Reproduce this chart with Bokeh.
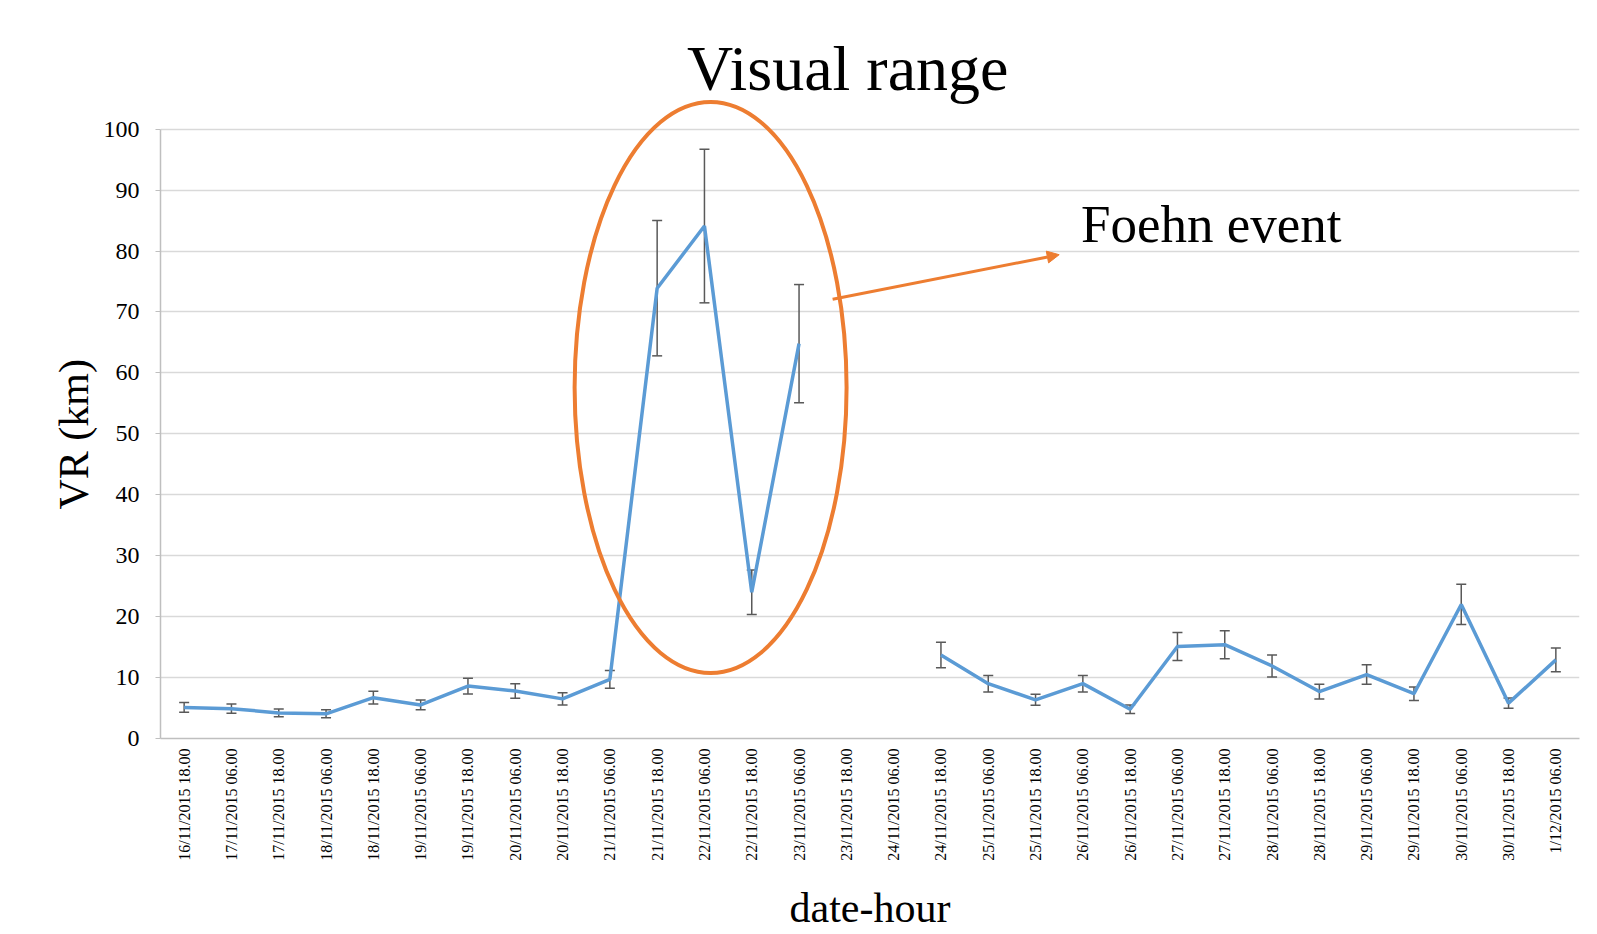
import math
import numpy as np
from bokeh.plotting import figure
from bokeh.models import (FactorRange, Range1d, ColumnDataSource, Whisker, TeeHead,
                          Label, Arrow, NormalHead, FixedTicker, Title)
from bokeh.embed import file_html
from bokeh.resources import INLINE

categories = [
    "16/11/2015 18.00", "17/11/2015 06.00", "17/11/2015 18.00", "18/11/2015 06.00",
    "18/11/2015 18.00", "19/11/2015 06.00", "19/11/2015 18.00", "20/11/2015 06.00",
    "20/11/2015 18.00", "21/11/2015 06.00", "21/11/2015 18.00", "22/11/2015 06.00",
    "22/11/2015 18.00", "23/11/2015 06.00", "23/11/2015 18.00", "24/11/2015 06.00",
    "24/11/2015 18.00", "25/11/2015 06.00", "25/11/2015 18.00", "26/11/2015 06.00",
    "26/11/2015 18.00", "27/11/2015 06.00", "27/11/2015 18.00", "28/11/2015 06.00",
    "28/11/2015 18.00", "29/11/2015 06.00", "29/11/2015 18.00", "30/11/2015 06.00",
    "30/11/2015 18.00", "1/12/2015 06.00",
]
vr_km = [5.1, 4.9, 4.2, 4.05, 6.7, 5.5, 8.6, 7.8, 6.5, 9.7,
         73.9, 84.1, 24.0, 64.8, np.nan, np.nan,
         13.7, 9.0, 6.35, 9.0, 4.8, 15.1, 15.4, 11.9, 7.7, 10.5, 7.35, 22.0, 5.8, 12.9]
vr_err = [0.8, 0.75, 0.65, 0.65, 1.05, 0.8, 1.3, 1.2, 1.0, 1.45,
          11.1, 12.6, 3.65, 9.7, np.nan, np.nan,
          2.1, 1.35, 0.9, 1.35, 0.7, 2.3, 2.3, 1.8, 1.2, 1.6, 1.1, 3.3, 0.85, 1.95]
y_ticks = [0, 10, 20, 30, 40, 50, 60, 70, 80, 90, 100]

# annotation geometry (synthetic categorical x, data y)
ellipse_center = [11.63, 57.6]
ellipse_size = [5.75, 93.8]
arrow_from = [14.21, 72.1]
arrow_to = [19.0, 79.4]

FONT = "Liberation Serif"
BLUE = "#5B9BD5"
ORANGE = "#ED7D31"

p = figure(width=1592, height=934, x_range=FactorRange(*categories),
           y_range=Range1d(0, 118), output_backend="svg", toolbar_location=None,
           title=None, min_border_left=160, min_border_right=13,
           min_border_top=19, min_border_bottom=196)
p.outline_line_color = None
p.background_fill_color = "white"

# grid
p.xgrid.grid_line_color = None
p.ygrid.grid_line_color = "#D9D9D9"
p.ygrid.grid_line_width = 1.5

# y axis
p.yaxis.ticker = FixedTicker(ticks=y_ticks)
p.yaxis.bounds = (0, 100)
p.yaxis.minor_tick_line_color = None
p.yaxis.major_tick_in = 0
p.yaxis.major_tick_out = 5
p.yaxis.major_tick_line_color = "#BFBFBF"
p.yaxis.axis_line_color = "#BFBFBF"
p.yaxis.axis_line_width = 1.5
p.yaxis.major_label_standoff = 16
p.yaxis.major_label_text_font = FONT
p.yaxis.major_label_text_font_size = "24px"
p.yaxis.major_label_text_color = "black"

p.add_layout(Title(text="VR (km)", align="left", offset=229, text_font=FONT,
                   text_font_size="42px", text_font_style="normal",
                   text_color="black", standoff=8), "left")

# x axis
p.xaxis.major_label_orientation = math.pi / 2
p.xaxis.major_tick_in = 0
p.xaxis.major_tick_out = 0
p.xaxis.minor_tick_line_color = None
p.xaxis.axis_line_color = "#BFBFBF"
p.xaxis.axis_line_width = 1.5
p.xaxis.major_label_standoff = 10
p.xaxis.major_label_text_font = FONT
p.xaxis.major_label_text_font_size = "16px"
p.xaxis.major_label_text_color = "black"
p.xaxis.axis_label = "date-hour"
p.xaxis.axis_label_text_font = FONT
p.xaxis.axis_label_text_font_size = "42px"
p.xaxis.axis_label_text_font_style = "normal"
p.xaxis.axis_label_text_color = "black"
p.xaxis.axis_label_standoff = 21

# data
src = ColumnDataSource(dict(x=categories, y=vr_km))
p.line("x", "y", source=src, line_color=BLUE, line_width=3.5)

ok = [i for i, v in enumerate(vr_km) if not np.isnan(v)]
esrc = ColumnDataSource(dict(
    x=[categories[i] for i in ok],
    lo=[vr_km[i] - vr_err[i] for i in ok],
    hi=[vr_km[i] + vr_err[i] for i in ok],
))
w = Whisker(base="x", lower="lo", upper="hi", source=esrc, dimension="height",
            line_color="#595959", line_width=1.5,
            upper_head=TeeHead(size=10, line_color="#595959", line_width=1.5),
            lower_head=TeeHead(size=10, line_color="#595959", line_width=1.5))
p.add_layout(w)

# Foehn ellipse and arrow
p.ellipse(x=[ellipse_center[0]], y=[ellipse_center[1]], width=[ellipse_size[0]],
          height=[ellipse_size[1]], fill_alpha=0, line_color=ORANGE, line_width=4)
p.add_layout(Arrow(x_start=arrow_from[0], y_start=arrow_from[1],
                   x_end=arrow_to[0], y_end=arrow_to[1],
                   line_color=ORANGE, line_width=3,
                   end=NormalHead(size=12, fill_color=ORANGE, line_color=ORANGE)))
p.add_layout(Label(x=19.46, y=84.4, text="Foehn event", text_font=FONT,
                   text_font_size="53px", text_color="black",
                   text_align="left", text_baseline="alphabetic"))

# chart title
p.add_layout(Label(x=14.53, y=109.9, text="Visual range", text_font=FONT,
                   text_font_size="64px", text_color="black",
                   text_align="center", text_baseline="alphabetic"))

open("out.html", "w").write(file_html(p, INLINE))
